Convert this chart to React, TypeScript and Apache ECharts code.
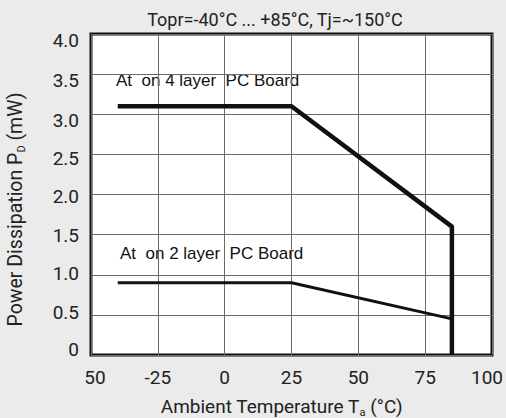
import React, { useEffect, useRef } from "react";
import * as echarts from "echarts";

const xTickValues = [-50, -25, 0, 25, 50, 75, 100];
const xTickLabels = ["50", "-25", "0", "25", "50", "75", "100"];
const yTickValues = [0, 0.5, 1, 1.5, 2, 2.5, 3, 3.5, 4];
const yTickLabels = ["0", "0.5", "1.0", "1.5", "2.0", "2.5", "3.0", "3.5", "4.0"];

const board4Temps = [-40, 25, 85, 85];
const board4Power = [3.1, 3.1, 1.6, 0];
const board2Temps = [-40, 25, 85];
const board2Power = [0.9, 0.9, 0.45];

const titleText = "Topr=-40°C ... +85°C, Tj=~150°C";
const label4 = "At  on 4 layer  PC Board";
const label2 = "At  on 2 layer  PC Board";

// small visual nudges of tick labels (pixels; + = right / down), as in the scanned original
const xLabelShift = [4, 0, 0, 0, 0, 0, -5];
const yLabelShift = [-6, -2, -1, 1, 2, 4, 6, 6, 6];

const FONT = "'Liberation Sans Narrow', Roboto, 'Liberation Sans', sans-serif";
const LFONT = "'Liberation Sans', Arial, sans-serif";

export default function App() {
  const ref = useRef<HTMLDivElement>(null);
  useEffect(() => {
    if (!ref.current) return;
    const chart = echarts.init(ref.current, null, { renderer: "svg" });
    const idx = (vals: number[], v: number) => vals.findIndex((t) => Math.abs(t - v) < 1e-6);
    const xRich: Record<string, any> = {};
    xLabelShift.forEach((s, i) => {
      xRich["x" + i] = { padding: [0, s < 0 ? -2 * s : 0, 0, s > 0 ? 2 * s : 0] };
    });
    const yRich: Record<string, any> = {};
    yLabelShift.forEach((s, i) => {
      yRich["y" + i] = { padding: [s > 0 ? 2 * s : 0, 0, s < 0 ? -2 * s : 0, 0] };
    });
    const subStyle = { fontFamily: FONT, fontSize: 11, color: "#222", verticalAlign: "bottom", padding: [12, 0, 0, 0] };
    chart.setOption({
      animation: false,
      backgroundColor: "#ebebeb",
      title: {
        text: titleText,
        left: 270,
        top: 5,
        textAlign: "center",
        textStyle: { fontFamily: FONT, fontSize: 18, fontWeight: "normal", color: "#222" },
      },
      grid: {
        left: 91,
        right: 14,
        top: 34,
        bottom: 63,
        outerBoundsMode: "none",
        containLabel: false,
        show: true,
        backgroundColor: "#ffffff",
        borderColor: "#111",
        borderWidth: 3,
      },
      xAxis: {
        type: "value",
        min: -50,
        max: 100,
        interval: 25,
        name: "Ambient Temperature T{sub|a} (°C)",
        nameLocation: "middle",
        nameGap: 40,
        nameTextStyle: { fontFamily: FONT, fontSize: 19, color: "#222", padding: [0, 20, 0, 0], rich: { sub: subStyle } },
        axisLine: { show: false },
        axisTick: { show: false },
        splitLine: { show: true, lineStyle: { color: "#6a6a6a", width: 1 } },
        axisLabel: {
          margin: 13,
          fontFamily: FONT,
          fontSize: 19,
          color: "#222",
          rich: xRich,
          formatter: (v: number) => {
            const i = idx(xTickValues, v);
            return i >= 0 ? `{x${i}|${xTickLabels[i]}}` : "";
          },
        },
      },
      yAxis: {
        type: "value",
        min: 0,
        max: 4,
        interval: 0.5,
        name: "Power Dissipation P{sub|D} (mW)",
        nameLocation: "middle",
        nameGap: 64,
        nameTextStyle: { fontFamily: FONT, fontSize: 19.5, color: "#222", padding: [0, 30, 0, 0], rich: { sub: subStyle } },
        axisLine: { show: false },
        axisTick: { show: false },
        splitLine: { show: true, lineStyle: { color: "#6a6a6a", width: 1 } },
        axisLabel: {
          margin: 12,
          fontFamily: FONT,
          fontSize: 19,
          color: "#222",
          rich: yRich,
          formatter: (v: number) => {
            const i = idx(yTickValues, v);
            return i >= 0 ? `{y${i}|${yTickLabels[i]}}` : "";
          },
        },
      },
      series: [
        {
          type: "line",
          name: "4 layer",
          data: board4Temps.map((t, i) => [t, board4Power[i]]),
          showSymbol: false,
          lineStyle: { color: "#111", width: 4.5 },
          z: 5,
        },
        {
          type: "line",
          name: "2 layer",
          data: board2Temps.map((t, i) => [t, board2Power[i]]),
          showSymbol: false,
          lineStyle: { color: "#111", width: 3 },
          z: 5,
        },
      ],
      graphic: [
        {
          type: "text",
          left: 116,
          top: 72,
          style: { text: label4, fontFamily: LFONT, fontSize: 17, fill: "#111" },
        },
        {
          type: "text",
          left: 120,
          top: 245,
          style: { text: label2, fontFamily: LFONT, fontSize: 17, fill: "#111" },
        },
      ],
    });
    return () => chart.dispose();
  }, []);
  return <div ref={ref} style={{ width: 506, height: 418, position: "absolute", left: 0, top: 0 }} />;
}
